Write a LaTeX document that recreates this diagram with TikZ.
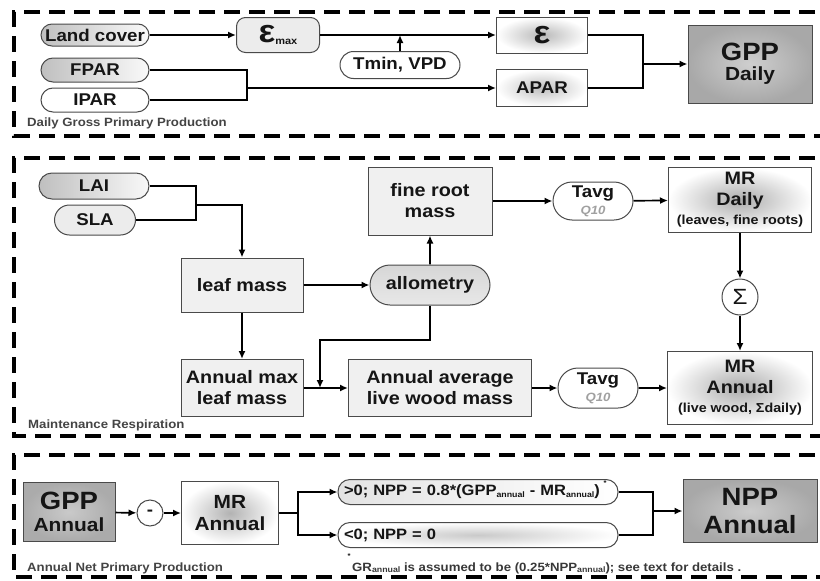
\documentclass[tikz,border=0pt]{standalone}
\usepackage{fontspec}
\setmainfont{Liberation Sans}[FakeStretch=1.1]
\usetikzlibrary{positioning,arrows.meta,shapes.misc}
\definecolor{tinta}{HTML}{151515}
\definecolor{borde}{HTML}{4A4A4A}
\definecolor{tenue}{HTML}{A0A0A0}
\newcommand{\tam}[2]{\fontsize{#1}{#2}\selectfont}
\newcommand{\sbs}[1]{\raisebox{-1.5pt}{\tam{8}{9}#1}}
\tikzset{every node/.style={text=tinta,font=\bfseries\tam{17}{20}},
         pill/.style={rounded rectangle,draw=borde,line width=1pt,align=center,inner sep=1pt},
         caja/.style={draw=borde,line width=1pt,fill=gray!12,align=center,inner sep=1pt},
         brillo/.style={inner color=gray!#1,outer color=white},
         panel/.style={line width=3.2pt,dash pattern=on 16pt off 9pt},
         rotulo/.style={font=\bfseries\tam{12}{14},text=tinta!80,anchor=west,inner sep=0},
         flecha/.style={-{Latex[length=8pt,width=7pt]},line width=1.7pt},
         linea/.style={line width=1.7pt}}

\begin{document}
\begin{tikzpicture}[x=1pt,y=-1pt]
  \useasboundingbox (0,0) rectangle (820,581);
  % panels
  \draw[panel] (840,12) -| (14,136) -- (840,136);
  \draw[panel] (840,158) -| (14,436) -- (840,436);
  \draw[panel] (840,455) -| (14,577) -- (840,577);
  \node[rotulo] (lab1) at (27,123) {Daily Gross Primary Production};
  \node[rotulo] (lab2) at (28,425) {Maintenance Respiration};
  \node[rotulo] (lab3) at (27,568) {Annual Net Primary Production};

  % daily GPP
  \node[pill,left color=gray!50,right color=gray!4,minimum width=110pt,minimum height=22pt] (land) at (95,35) {Land cover};
  \node[pill,left color=gray!50,right color=gray!4,minimum width=110pt,minimum height=24pt] (fpar) at (95,70) {FPAR};
  \node[pill,fill=white,minimum width=110pt,minimum height=24pt] (ipar) at (95,100) {IPAR};
  \node[draw=borde,line width=1pt,rounded corners=9pt,fill=gray!15,minimum width=83pt,minimum height=35pt] (emax) at (278,35) {\tam{32}{32}ε\sbs{\tam{10}{10}max}};
  \node[pill,fill=white,minimum width=122pt,minimum height=27pt] (tmin) at (400,65) {Tmin, VPD};
  \node[caja,brillo=55,minimum width=91pt,minimum height=36pt] (eps) at (542,35) {\tam{32}{32}ε};
  \node[caja,brillo=50,minimum width=91pt,minimum height=37pt] (apar) at (542,88) {APAR};
  \node[caja,inner color=gray!38,outer color=gray!68,minimum width=124pt,minimum height=78pt] (gpp) at (750,64) {{\tam{25}{27}GPP}\\{\tam{19}{20}Daily}};
  \coordinate (j1) at (247,88);
  \coordinate (j2) at (643,64);
  \draw[flecha] (land) -- (emax);
  \draw[flecha] (emax) -- (eps);
  \draw[flecha] (tmin) -- (tmin |- emax);
  \draw[linea] (fpar.east) -| (j1) (ipar.east) -| (j1);
  \draw[flecha] (j1) -- (apar);
  \draw[linea] (eps.east) -| (j2) (apar.east) -| (j2);
  \draw[flecha] (j2) -- (gpp);

  % maintenance respiration
  \node[pill,left color=gray!50,right color=gray!5,minimum width=112pt,minimum height=26pt] (lai) at (94,186) {LAI};
  \node[pill,fill=gray!15,minimum width=83pt,minimum height=30pt] (sla) at (95,220) {SLA};
  \node[caja,minimum width=122pt,minimum height=54pt,font=\bfseries\tam{18}{21}] (leaf) at (242,285) {leaf mass};
  \node[caja,minimum width=124pt,minimum height=68pt,font=\bfseries\tam{18}{21}] (froot) at (430,201) {fine root\\mass};
  \node[pill,top color=gray!32,bottom color=gray!18,minimum width=122pt,minimum height=40pt,font=\bfseries\tam{18}{21}] (allo) at (430,285) {allometry};
  \node[caja,minimum width=122pt,minimum height=57pt,font=\bfseries\tam{18}{21}] (amax) at (242,388) {Annual max\\leaf mass};
  \node[caja,minimum width=183pt,minimum height=57pt,font=\bfseries\tam{18}{21}] (awood) at (440,388) {Annual average\\live wood mass};
  \node[pill,fill=white,minimum width=82pt,minimum height=38pt] (tavga) at (593,201) {Tavg\\[-3pt]\textcolor{tenue}{\itshape\tam{12}{13}Q10}};
  \node[pill,fill=white,minimum width=82pt,minimum height=40pt] (tavgb) at (598,388) {Tavg\\[-3pt]\textcolor{tenue}{\itshape\tam{12}{13}Q10}};
  \node[caja,brillo=65,minimum width=143pt,minimum height=65pt,font=\bfseries\tam{18}{21}] (mrd) at (740,200) {MR\\Daily\\[-2pt]{\tam{13}{14}(leaves, fine roots)}};
  \node[circle,draw=borde,line width=1pt,fill=white,minimum size=36pt,inner sep=0] (sig) at (740,297) {\mdseries\tam{22}{22}Σ};
  \node[caja,brillo=65,minimum width=145pt,minimum height=73pt,font=\bfseries\tam{18}{21}] (mra) at (740,388) {MR\\Annual\\[-2pt]{\tam{13}{14}(live wood, Σdaily)}};
  \coordinate (j3) at (196,205);
  \coordinate (j4) at (320,340);
  \draw[linea] (lai.east) -| (j3) (sla.east) -| (j3);
  \draw[flecha] (j3) -| (leaf.north);
  \draw[flecha] (leaf) -- (allo);
  \draw[flecha] (allo) -- (froot);
  \draw[flecha] (leaf) -- (amax);
  \draw[flecha] (amax) -- (awood);
  \draw[flecha] (allo.south) |- (j4) -- (j4 |- amax);
  \draw[flecha] (froot) -- (tavga);
  \draw[flecha] (tavga) -- (mrd);
  \draw[flecha] (mrd) -- (sig);
  \draw[flecha] (sig) -- (mra);
  \draw[flecha] (awood) -- (tavgb);
  \draw[flecha] (tavgb) -- (mra);

  % annual NPP
  \node[caja,inner color=gray!42,outer color=gray!66,minimum width=92pt,minimum height=59pt,font=\bfseries\tam{19}{22}] (gppa) at (69,512) {{\tam{25}{27}GPP}\\Annual};
  \node[circle,draw=borde,line width=1pt,fill=white,minimum size=26pt,inner sep=0] (minus) at (150,513) {-};
  \node[caja,brillo=60,minimum width=97pt,minimum height=63pt,font=\bfseries\tam{19}{22}] (mran) at (230,513) {MR\\Annual};
  \node[draw=borde,line width=1pt,rounded corners=12pt,left color=gray!22,right color=white,minimum height=25pt,text width=268pt,inner xsep=6pt,inner ysep=0,align=left,font=\bfseries\tam{15}{17}] (pos) at (478,492) {>0; NPP = 0.8*(GPP\sbs{annual} - MR\sbs{annual})};
  \node[draw=borde,line width=1pt,rounded corners=12pt,brillo=42,minimum height=25pt,text width=268pt,inner xsep=6pt,inner ysep=0,align=left,font=\bfseries\tam{15}{17}] (neg) at (478,535) {<0; NPP = 0};
  \node[caja,inner color=gray!40,outer color=gray!68,minimum width=134pt,minimum height=63pt,font=\bfseries\tam{25}{28}] (npp) at (750,511) {NPP\\Annual};
  \node[font=\bfseries\tam{7}{7},inner sep=0] (ast1) at (605,483) {*};
  \node[font=\bfseries\tam{7}{7},inner sep=0] (ast2) at (349,556) {*};
  \node[font=\bfseries\tam{12}{13},text=tinta!85,anchor=west,inner sep=0] (nota) at (352,568) {GR\sbs{annual} is assumed to be (0.25*NPP\sbs{annual}); see text for details .};
  \coordinate (j6) at (298,513);
  \coordinate (j7) at (653,511);
  \draw[flecha] (gppa) -- (minus);
  \draw[flecha] (minus) -- (mran);
  \draw[linea] (mran.east) -- (j6);
  \draw[flecha] (j6) |- (pos.west);
  \draw[flecha] (j6) |- (neg.west);
  \draw[linea] (pos.east) -| (j7) (neg.east) -| (j7);
  \draw[flecha] (j7) -- (npp);
\end{tikzpicture}
\end{document}
